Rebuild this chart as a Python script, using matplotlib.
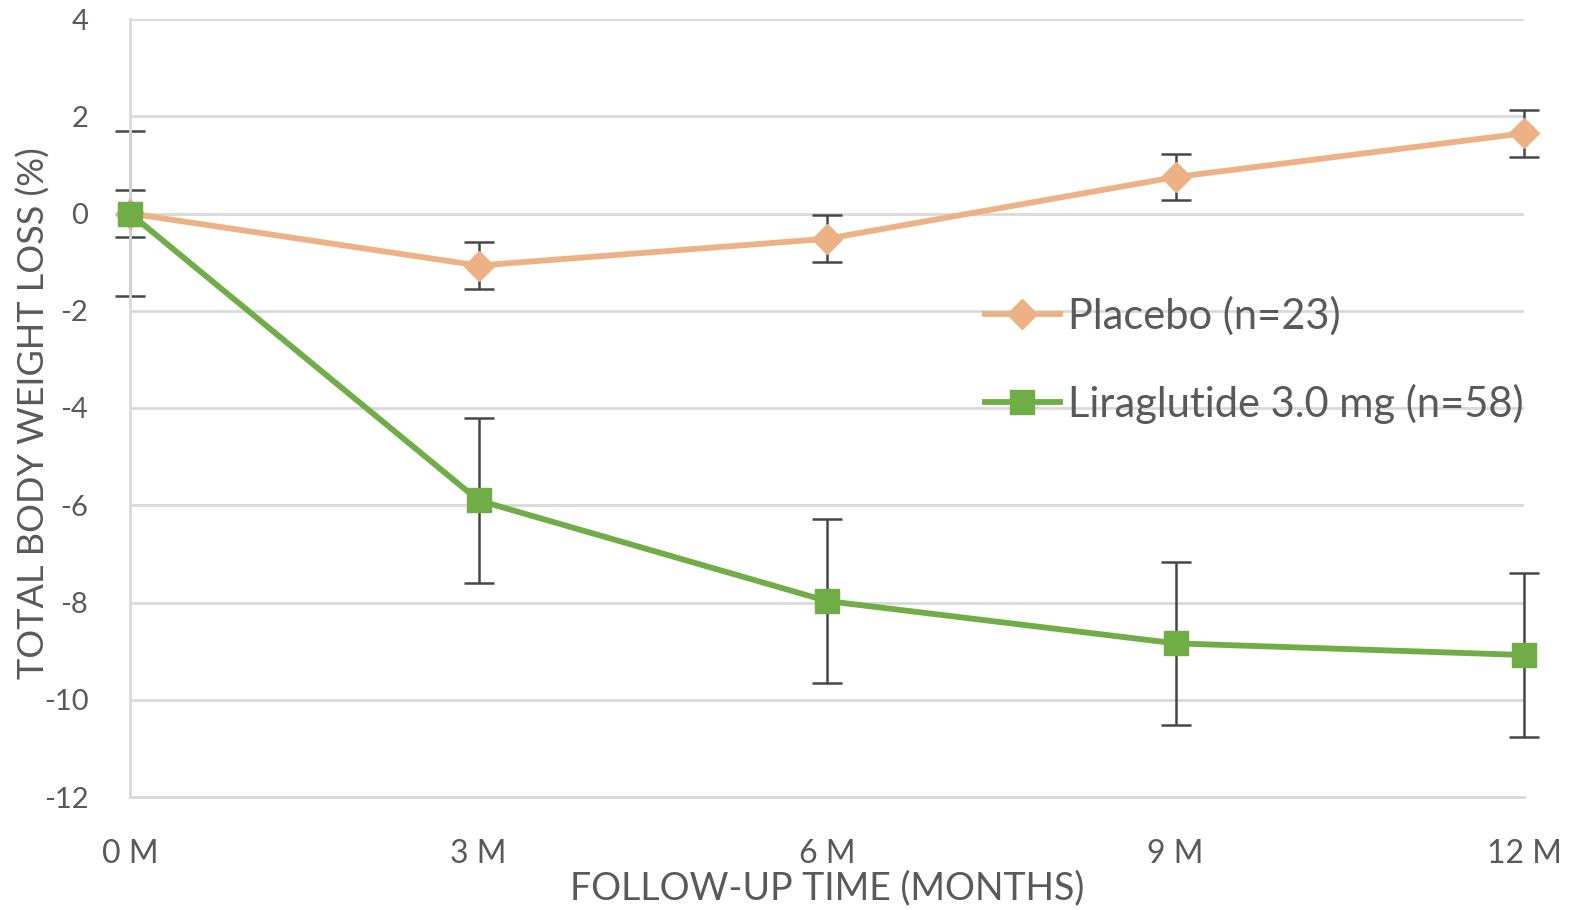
import numpy as np
import matplotlib.pyplot as plt

plt.rcParams['font.family'] = ['Lato', 'DejaVu Sans']
plt.rcParams['axes.unicode_minus'] = False

months = [0, 3, 6, 9, 12]
tick_labels = ['0 M', '3 M', '6 M', '9 M', '12 M']

placebo = [0, -1.07, -0.52, 0.75, 1.65]
placebo_err = [0.48, 0.48, 0.48, 0.48, 0.48]

lira = [0, -5.9, -7.97, -8.84, -9.08]
lira_err = [1.7, 1.69, 1.69, 1.67, 1.69]

orange = '#ECB285'
green = '#70AD47'
grey_text = '#595959'

fig = plt.figure(figsize=(15.71, 9.10), dpi=100)
ax = fig.add_axes([130 / 1571, 1 - 797 / 910, (1524 - 130) / 1571, (797 - 19) / 910])

# error bars underneath the lines
for vals, errs in [(lira, lira_err), (placebo, placebo_err)]:
    ax.errorbar(months, vals, yerr=errs, fmt='none', ecolor='#474747',
                elinewidth=1.8, capsize=11, capthick=1.8, zorder=2, clip_on=False)

ax.plot(months, placebo, color=orange, lw=4.2, marker='D', ms=15,
        mec=orange, mfc=orange, label='Placebo (n=23)', zorder=3, clip_on=False)
ax.plot(months, lira, color=green, lw=4.2, marker='s', ms=17,
        mec=green, mfc=green, label='Liraglutide 3.0 mg (n=58)', zorder=4, clip_on=False)

ax.set_xlim(0, 12)
ax.set_ylim(-12, 4)
ax.set_xticks(months)
ax.set_xticklabels(tick_labels)
ax.set_yticks(np.arange(-12, 5, 2))

ax.grid(axis='y', color='#D9D9D9', lw=2)
ax.set_axisbelow(True)
for side in ['top', 'right']:
    ax.spines[side].set_visible(False)
for side in ['left', 'bottom']:
    ax.spines[side].set_color('#D9D9D9')
    ax.spines[side].set_linewidth(2)

ax.tick_params(length=0, labelcolor=grey_text)
ax.tick_params(axis='x', pad=30, labelsize=23)
ax.tick_params(axis='y', pad=30, labelsize=21)

ax.set_ylabel('TOTAL BODY WEIGHT LOSS (%)', fontsize=26, color=grey_text)
ax.set_xlabel('FOLLOW-UP TIME (MONTHS)', fontsize=27, color=grey_text)
ax.yaxis.set_label_coords(-0.057, 0.494)
ax.xaxis.set_label_coords(0.5, -0.094)

ax.legend(loc='center left', bbox_to_anchor=(0.613, 0.562), frameon=False,
          fontsize=30, labelcolor=grey_text, handlelength=1.8, handletextpad=0.2,
          labelspacing=1.15, borderpad=0, borderaxespad=0)

fig.savefig('out.png', dpi=100)
